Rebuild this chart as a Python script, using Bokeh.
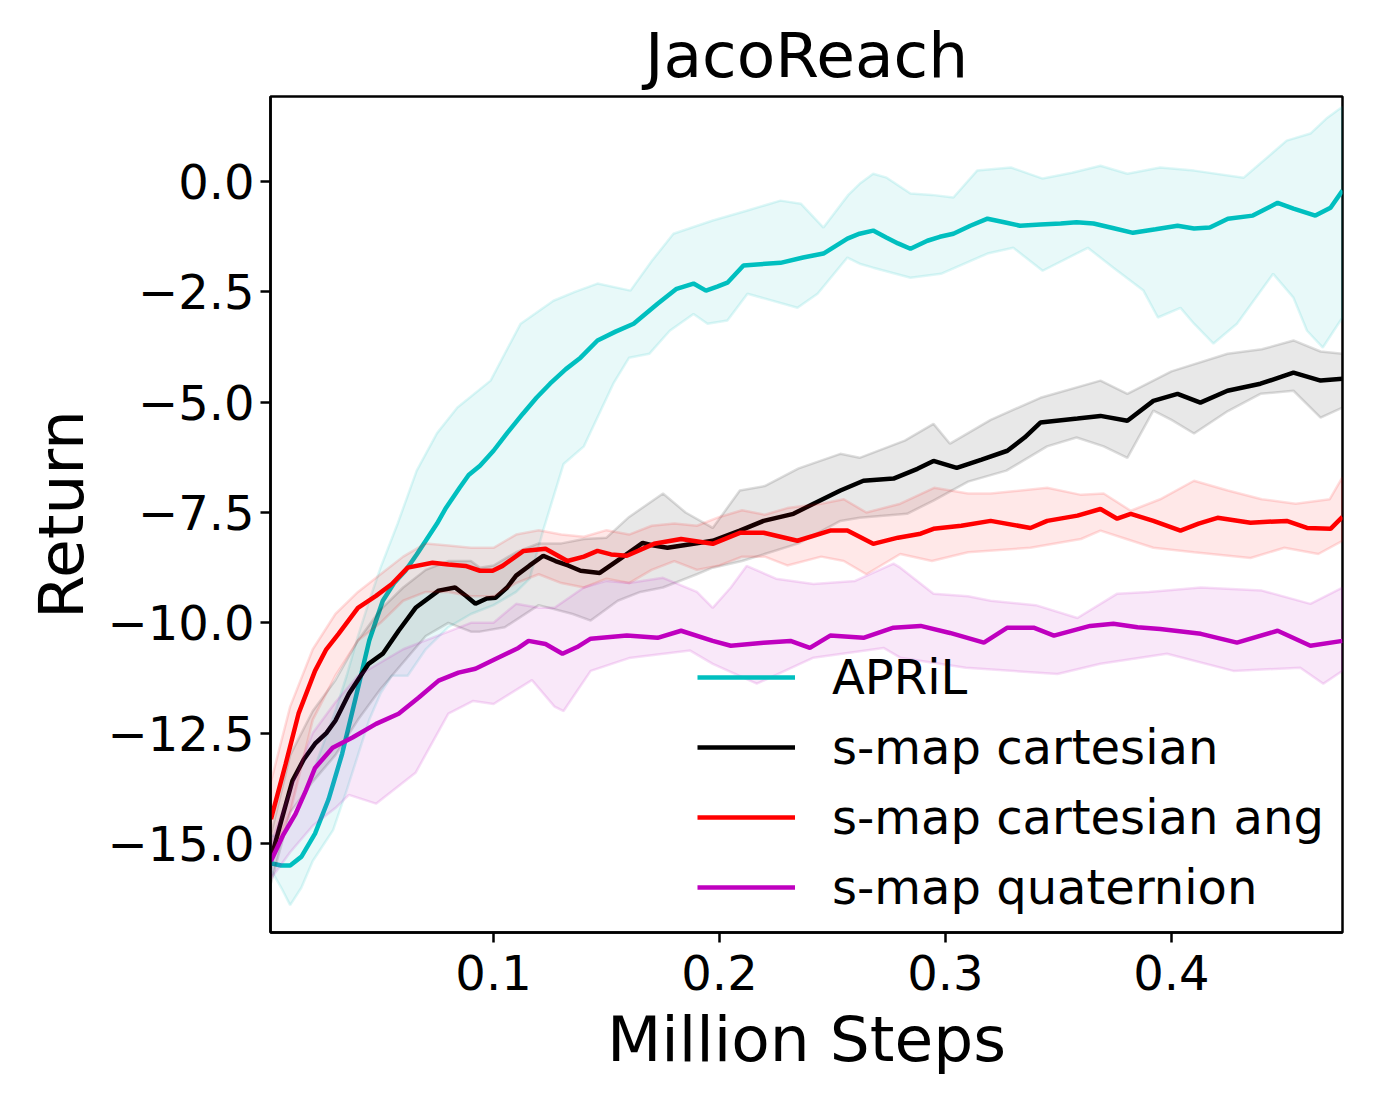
from bokeh.plotting import figure
from bokeh.models import Range1d, FixedTicker, CustomJSTickFormatter, Legend, LegendItem
from bokeh.embed import file_html
from bokeh.resources import INLINE

# ---------------- data ----------------
april_x = [.0015, .006, .010, .015, .021, .027, .033, .039, .045, .051, .056, .061, .066, .070, .075, .079,
           .085, .089, .094, .100, .106, .113, .119, .125, .132, .1385, .146, .154, .162, .1726, .181, .1885,
           .194, .199, .2035, .2106, .218, .227, .237, .246, .2566, .262, .268, .274, .279, .2845, .292, .2975,
           .3035, .311, .3186, .326, .333, .342, .351, .358, .3655, .374, .383, .393, .4027, .41, .417, .425,
           .436, .447, .454, .4637, .4704, .4757]
april_y = [-15.45, -15.5, -15.5, -15.3, -14.78, -14.0, -12.97, -11.7, -10.4, -9.5, -9.1, -8.82, -8.45, -8.14,
           -7.75, -7.39, -6.94, -6.65, -6.44, -6.1, -5.7, -5.26, -4.9, -4.58, -4.25, -3.99, -3.6, -3.4, -3.22,
           -2.77, -2.43, -2.31, -2.47, -2.38, -2.29, -1.9, -1.87, -1.84, -1.72, -1.63, -1.29, -1.18, -1.11, -1.27,
           -1.4, -1.52, -1.34, -1.25, -1.18, -1.0, -0.84, -0.92, -1.0, -0.97, -0.95, -0.92, -0.95, -1.05, -1.16,
           -1.08, -1.0, -1.06, -1.04, -0.84, -0.77, -0.48, -0.61, -0.77, -0.59, -0.2]
april_up_x = [.0015, .006, .010, .015, .020, .025, .030, .035, .040, .045, .050, .0575, .066, .075, .084, .0987,
              .106, .112, .1265, .136, .146, .1606, .17, .1796, .197, .212, .227, .236, .246, .257, .262, .268,
              .274, .2845, .294, .3035, .314, .329, .343, .356, .3686, .3805, .395, .41, .432, .439, .451, .4615,
              .469, .4757]
april_up_y = [-14.8, -14.9, -14.6, -14.0, -13.4, -12.7, -12.0, -11.2, -10.3, -9.5, -8.75, -7.76, -6.55, -5.7,
              -5.12, -4.51, -3.8, -3.22, -2.7, -2.5, -2.31, -2.47, -1.8, -1.18, -0.88, -0.66, -0.43, -0.5, -1.04,
              -0.3, -0.05, 0.18, 0.09, -0.27, -0.3, -0.36, 0.25, 0.32, 0.07, 0.2, 0.36, 0.18, 0.32, 0.25, 0.09,
              0.4, 0.93, 1.09, 1.45, 1.7]
april_lo_x = [.0015, .006, .010, .015, .020, .029, .035, .040, .045, .050, .055, .062, .070, .080, .090, .100,
              .110, .116, .122, .131, .140, .153, .160, .169, .178, .1885, .1947, .2035, .2124, .2345, .2434,
              .2566, .262, .268, .2845, .298, .3186, .330, .343, .363, .3743, .3876, .394, .404, .410, .4186,
              .429, .445, .454, .460, .467, .4757]
april_lo_y = [-15.6, -16.0, -16.4, -16.0, -15.4, -14.7, -13.8, -13.0, -12.2, -11.6, -11.2, -11.2, -10.6, -10.1,
              -9.8, -9.6, -9.3, -9.0, -7.9, -6.4, -6.0, -4.58, -3.99, -3.9, -3.38, -3.0, -3.22, -3.15, -2.54,
              -2.86, -2.54, -1.72, -1.86, -1.95, -2.18, -2.09, -1.63, -1.5, -2.02, -1.5, -1.95, -2.47, -3.08,
              -2.86, -3.22, -3.67, -3.22, -2.09, -2.63, -3.38, -3.76, -3.08]

cart_x = [.0015, .006, .011, .016, .021, .026, .030, .036, .0447, .051, .058, .0655, .0757, .083, .088, .092,
          .097, .101, .106, .110, .116, .122, .1274, .133, .1385, .147, .156, .166, .171, .177, .1885, .197, .209,
          .2195, .2327, .2416, .2535, .2637, .277, .2876, .2947, .305, .316, .3274, .335, .342, .3584, .3686,
          .3805, .392, .4027, .4128, .4248, .4394, .454, .466, .4757]
cart_y = [-15.35, -14.5, -13.58, -13.1, -12.74, -12.5, -12.22, -11.61, -10.93, -10.7, -10.18, -9.66, -9.27,
          -9.2, -9.4, -9.57, -9.45, -9.43, -9.2, -8.93, -8.7, -8.48, -8.6, -8.7, -8.82, -8.87, -8.55, -8.19,
          -8.25, -8.3, -8.21, -8.14, -7.91, -7.69, -7.53, -7.3, -7.0, -6.78, -6.73, -6.51, -6.33, -6.49, -6.3,
          -6.1, -5.8, -5.46, -5.37, -5.31, -5.42, -4.97, -4.81, -5.01, -4.74, -4.58, -4.33, -4.51, -4.47]
cart_up_x = [.0015, .010, .020, .030, .040, .050, .060, .070, .080, .090, .094, .100, .110, .120, .130, .140,
             .150, .160, .175, .185, .197, .209, .220, .235, .2535, .262, .282, .2947, .302, .320, .342, .3686,
             .3805, .400, .4248, .440, .454, .466, .4757]
cart_up_y = [-14.8, -13.0, -12.0, -11.3, -10.4, -9.7, -9.2, -8.8, -8.6, -8.6, -8.75, -8.7, -8.4, -8.2, -8.2,
             -8.1, -8.07, -7.6, -7.07, -7.5, -7.85, -7.0, -6.9, -6.5, -6.17, -6.26, -5.87, -5.49, -5.94, -5.4,
             -4.9, -4.51, -4.81, -4.3, -3.9, -3.8, -3.6, -3.85, -3.9]
cart_lo_x = [.0015, .010, .020, .030, .040, .050, .060, .070, .080, .090, .094, .105, .120, .135, .143, .155,
             .165, .175, .190, .197, .210, .220, .235, .2535, .262, .283, .2947, .310, .327, .345, .358, .370,
             .3805, .392, .400, .410, .425, .4394, .454, .466, .4757]
cart_lo_y = [-15.9, -14.3, -13.6, -13.0, -12.2, -11.5, -10.9, -10.3, -10.0, -10.2, -10.2, -10.1, -9.6, -9.8,
             -9.95, -9.5, -9.3, -9.2, -8.9, -8.75, -8.6, -8.44, -8.2, -7.69, -7.62, -7.53, -7.23, -6.8, -6.55,
             -6.0, -5.8, -6.0, -6.26, -5.19, -5.4, -5.71, -5.2, -4.81, -4.74, -5.35, -5.12]

ang_x = [.0015, .008, .0137, .021, .026, .0314, .040, .048, .055, .062, .073, .080, .0876, .094, .0996, .104,
         .1133, .123, .1327, .140, .146, .152, .159, .171, .183, .197, .209, .2195, .2345, .249, .2566, .268,
         .279, .289, .2947, .307, .320, .3376, .345, .3584, .3686, .376, .382, .392, .404, .412, .4204, .435,
         .451, .460, .4704, .4757]
ang_y = [-14.45, -13.2, -12.06, -11.09, -10.6, -10.25, -9.66, -9.39, -9.12, -8.75, -8.64, -8.68, -8.71, -8.82,
         -8.82, -8.71, -8.37, -8.32, -8.6, -8.5, -8.37, -8.45, -8.48, -8.21, -8.1, -8.21, -7.96, -7.96, -8.14,
         -7.91, -7.91, -8.21, -8.07, -7.98, -7.87, -7.8, -7.69, -7.85, -7.69, -7.57, -7.42, -7.64, -7.53, -7.69,
         -7.91, -7.75, -7.62, -7.73, -7.69, -7.85, -7.87, -7.6]
ang_up_x = [.0015, .010, .020, .030, .040, .050, .060, .070, .080, .090, .100, .110, .120, .130, .140, .150,
            .160, .170, .180, .190, .200, .210, .220, .230, .245, .255, .265, .280, .295, .310, .320, .345, .360,
            .370, .382, .395, .410, .425, .440, .455, .470, .4757]
ang_up_y = [-13.6, -11.9, -10.6, -9.8, -9.3, -8.9, -8.5, -8.2, -8.25, -8.3, -8.3, -8.0, -7.9, -8.0, -8.05,
            -7.9, -8.0, -7.8, -7.75, -7.8, -7.6, -7.45, -7.55, -7.4, -7.3, -7.2, -7.5, -7.3, -6.94, -7.07, -7.07,
            -6.94, -7.1, -7.07, -7.46, -7.2, -6.78, -7.0, -7.2, -7.3, -7.2, -6.7]
ang_lo_x = [.0015, .010, .020, .030, .040, .050, .060, .070, .080, .090, .100, .110, .120, .130, .140, .150,
            .160, .170, .180, .190, .200, .210, .220, .230, .245, .255, .265, .280, .294, .310, .3376, .360,
            .3686, .380, .392, .410, .435, .450, .465, .4757]
ang_lo_y = [-15.3, -14.3, -12.2, -11.2, -10.4, -10.0, -9.5, -9.3, -9.3, -9.4, -9.4, -9.1, -8.9, -9.1, -9.2,
            -9.0, -9.1, -8.8, -8.6, -8.8, -8.7, -8.5, -8.5, -8.7, -8.5, -8.6, -8.9, -8.44, -8.6, -8.4, -8.3,
            -8.1, -7.91, -8.1, -8.3, -8.4, -8.53, -8.3, -8.44, -8.14]

quat_x = [.0015, .007, .0124, .017, .021, .0288, .0376, .048, .058, .0668, .0757, .0845, .092, .102, .111,
          .1155, .123, .1305, .137, .143, .159, .1726, .183, .197, .205, .2195, .2314, .240, .249, .2637, .277,
          .289, .302, .317, .3274, .339, .348, .364, .3743, .385, .395, .413, .429, .447, .4615, .4757]
quat_y = [-15.4, -14.8, -14.33, -13.8, -13.29, -12.83, -12.6, -12.29, -12.06, -11.7, -11.31, -11.13, -11.04,
          -10.79, -10.57, -10.41, -10.48, -10.7, -10.55, -10.36, -10.29, -10.34, -10.18, -10.41, -10.52, -10.45,
          -10.41, -10.57, -10.29, -10.34, -10.11, -10.07, -10.23, -10.45, -10.11, -10.11, -10.29, -10.07,
          -10.02, -10.1, -10.14, -10.25, -10.45, -10.18, -10.52, -10.41]
quat_up_x = [.0015, .010, .020, .030, .040, .050, .060, .070, .080, .090, .100, .110, .120, .127, .140, .150,
             .160, .175, .190, .197, .205, .212, .225, .2416, .260, .277, .280, .2947, .310, .320, .340, .3584,
             .376, .390, .413, .440, .4615, .4757]
quat_up_y = [-15.0, -13.8, -12.5, -11.8, -11.2, -10.9, -10.6, -10.4, -10.2, -10.0, -10.0, -9.57, -9.66, -9.66,
             -9.2, -9.05, -9.1, -8.98, -9.3, -9.66, -9.2, -8.71, -9.0, -9.12, -9.05, -8.66, -8.75, -9.34, -9.4,
             -9.5, -9.6, -9.89, -9.34, -9.3, -9.2, -9.27, -9.57, -9.2]
quat_lo_x = [.0015, .010, .020, .030, .036, .048, .0655, .080, .091, .100, .117, .127, .131, .143, .160, .187,
             .197, .2165, .2416, .2726, .280, .309, .3496, .3686, .398, .4274, .457, .4672, .4757]
quat_lo_y = [-15.8, -15.2, -14.6, -14.2, -13.9, -14.1, -13.4, -12.06, -11.77, -11.84, -11.3, -11.9, -12.0,
             -11.09, -10.8, -10.63, -10.93, -11.38, -10.79, -10.57, -10.79, -11.02, -11.16, -10.93, -10.7,
             -11.09, -11.02, -11.38, -11.09]

labels = ["APRiL", "s-map cartesian", "s-map cartesian ang", "s-map quaternion"]
colors = ["#00BFBF", "#000000", "#FF0000", "#BF00BF"]
x_ticks = [0.1, 0.2, 0.3, 0.4]
y_ticks = [0.0, -2.5, -5.0, -7.5, -10.0, -12.5, -15.0]

series = [
    (april_x, april_y, april_up_x, april_up_y, april_lo_x, april_lo_y),
    (cart_x, cart_y, cart_up_x, cart_up_y, cart_lo_x, cart_lo_y),
    (ang_x, ang_y, ang_up_x, ang_up_y, ang_lo_x, ang_lo_y),
    (quat_x, quat_y, quat_up_x, quat_up_y, quat_lo_x, quat_lo_y),
]

FONT = "DejaVu Sans"

p = figure(frame_width=1072, frame_height=836,
           min_border_left=270, min_border_right=22, min_border_top=96, min_border_bottom=156,
           x_range=Range1d(0.0013, 0.4757), y_range=Range1d(-17.02, 1.93),
           output_backend="svg", toolbar_location=None, title="JacoReach")

p.title.text_font = FONT
p.title.text_font_size = "63px"
p.title.text_font_style = "normal"
p.title.align = "center"
p.title.text_color = "black"

p.xgrid.visible = False
p.ygrid.visible = False
p.background_fill_color = "white"
p.border_fill_color = "white"
p.outline_line_color = "black"
p.outline_line_width = 2.5
p.outline_line_alpha = 1.0

for ax in (p.xaxis[0], p.yaxis[0]):
    ax.axis_line_width = 2.5
    ax.axis_line_color = "black"
    ax.major_tick_line_width = 2.5
    ax.major_tick_line_color = "black"
    ax.major_tick_out = 10
    ax.major_tick_in = 0
    ax.minor_tick_line_color = None
    ax.major_label_text_font = FONT
    ax.major_label_text_font_size = "48px"
    ax.major_label_text_color = "black"
    ax.axis_label_text_font = FONT
    ax.axis_label_text_font_size = "63px"
    ax.axis_label_text_font_style = "normal"
    ax.axis_label_text_color = "black"

p.xaxis.ticker = FixedTicker(ticks=x_ticks)
p.yaxis.ticker = FixedTicker(ticks=y_ticks)
p.xaxis.formatter = CustomJSTickFormatter(code="return tick.toFixed(1);")
p.yaxis.formatter = CustomJSTickFormatter(
    code="return (tick < 0 ? '\\u2212' : '') + Math.abs(tick).toFixed(1);")
p.xaxis.axis_label = "Million Steps"
p.yaxis.axis_label = "Return"
p.xaxis.major_label_standoff = 12
p.yaxis.major_label_standoff = 6
p.xaxis.axis_label_standoff = 10
p.yaxis.axis_label_standoff = 6

items = []
for (mx, my, ux, uy, lx, ly), c, lab in zip(series, colors, labels):
    px = list(ux) + list(lx)[::-1]
    py = list(uy) + list(ly)[::-1]
    p.patch(px, py, fill_color=c, fill_alpha=0.09, line_color=c, line_alpha=0.13, line_width=2.5)
    r = p.line(mx, my, line_color=c, line_width=4.5)
    items.append(LegendItem(label=lab, renderers=[r]))

legend = Legend(items=items, location=(427, 17), glyph_width=98, glyph_height=30,
                label_standoff=37, padding=0, spacing=14,
                label_text_font=FONT, label_text_font_size="48px", label_text_color="black",
                background_fill_alpha=0, border_line_alpha=0)
p.add_layout(legend)

open("out.html", "w").write(file_html(p, INLINE))
